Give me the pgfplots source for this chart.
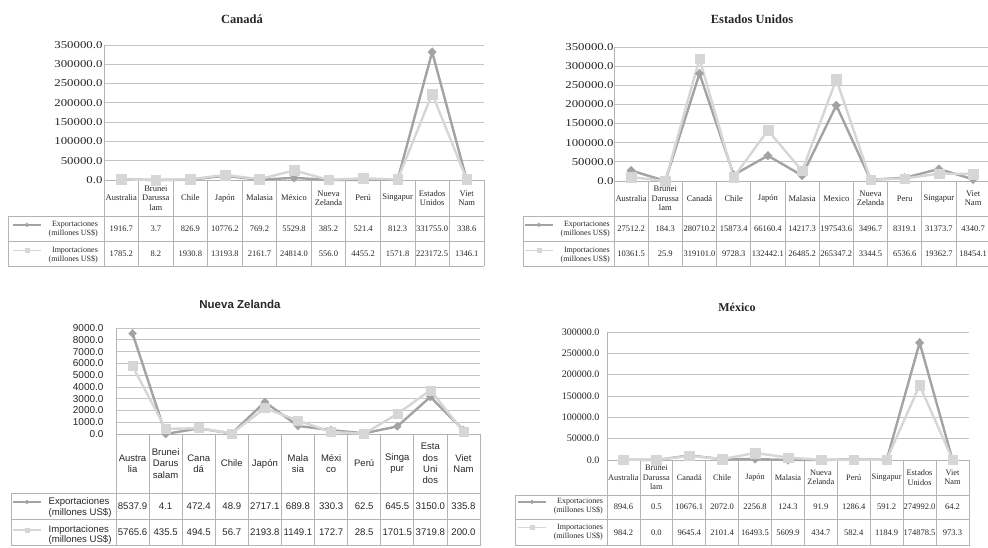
\documentclass[border=0pt]{standalone}
\usepackage{fontspec}
\setmainfont{Liberation Serif}
\newfontfamily\sansf{Liberation Sans}
\newfontfamily\tickserif{Liberation Serif}[FakeStretch=1.22]
\usepackage{pgfplots}
\pgfplotsset{compat=1.18}
\definecolor{expc}{HTML}{A3A3A3}
\definecolor{impc}{HTML}{D6D6D6}
\definecolor{gridc}{HTML}{C4C4C4}
\definecolor{tblc}{HTML}{B4B4B4}
\definecolor{txtc}{HTML}{262626}

\pgfplotsset{
  panel/.style={
    scale only axis, anchor=south west, clip=false,
    xmin=-0.5, xmax=10.5, ymin=0,
    xtick=\empty, scaled y ticks=false,
    axis x line*=bottom, axis y line*=left,
    axis line style={tblc, line width=0.8pt, -},
    ymajorgrids, grid style={gridc, line width=0.8pt},
    major tick length=0pt,
    /pgf/number format/fixed, /pgf/number format/fixed zerofill,
    /pgf/number format/precision=1, /pgf/number format/1000 sep={},
    /pgf/number format/assume math mode=true,
    yticklabel style={text=txtc},
    legend style={draw=none, fill=none, inner sep=0pt, row sep=7.5pt, text=txtc, nodes={inner sep=1pt}, cells={align=right},
      /tikz/every odd column/.append style={column sep=6pt}},
    legend cell align=right,
    legend image code/.code={\draw[mark repeat=2, mark phase=2, ##1, line width=1.6pt, mark size=2pt, yshift=4.5pt] plot coordinates {(0pt,0pt) (14pt,0pt) (28pt,0pt)};},
  },
  expstyle/.style={expc, line width=2.4pt, mark=diamond*, mark size=4.3pt, mark options={solid, fill=expc, draw=expc, line width=0.4pt, xscale=1.3}},
  impstyle/.style={impc, line width=2.4pt, mark=square*, mark size=4.8pt, mark options={solid, fill=impc, draw=impc, line width=0.4pt}},
}

\newcommand\tablegrid[7]{%
  \begin{scope}[x=1pt,y=-1pt]
    \pgfmathsetmacro\XR{#1+11*#2}
    \draw[tblc, line width=0.8pt] (#1,#4) -- (\XR,#4) (#3,#5) -- (\XR,#5) (#3,#6) -- (\XR,#6) (#3,#7) -- (\XR,#7) (#3,#5) -- (#3,#7);
    \foreach \i in {0,...,11} \draw[tblc, line width=0.8pt] ({#1+\i*#2},#4) -- ({#1+\i*#2},#7);
  \end{scope}}
\newcommand\tablerow[5]{%
  \begin{scope}[x=1pt,y=-1pt]
    \foreach \t [count=\i from 0] in {#5}
      \node[align=center, inner sep=0pt, font=#4, text=txtc] at ({#1+(\i+0.5)*#2},#3) {\t};
  \end{scope}}

\begin{document}
\begin{tikzpicture}
\path[use as bounding box] (0pt,0pt) rectangle (988pt,-547pt);

% ---------------- Tables ----------------
\tablegrid{104}{34.545}{8}{180}{216}{241}{266}
\tablerow{104}{34.545}{198}{\fontsize{8.5}{9.4}\selectfont}{Australia,{Brunei\\Darussa\\lam},Chile,Japón,Malasia,México,{Nueva\\Zelanda},Perú,Singapur,{Estados\\Unidos},{Viet\\Nam}}
\tablerow{104}{34.545}{228.5}{\fontsize{8.5}{10}\selectfont}{1916.7,3.7,826.9,10776.2,769.2,5529.8,385.2,521.4,812.3,331755.0,338.6}
\tablerow{104}{34.545}{253.5}{\fontsize{8.5}{10}\selectfont}{1785.2,8.2,1930.8,13193.8,2161.7,24814.0,556.0,4455.2,1571.8,223172.5,1346.1}

\tablegrid{614}{34.2}{523}{181}{216}{241}{266}
\tablerow{614}{34.2}{198.5}{\fontsize{8.5}{9.4}\selectfont}{Australia,{Brunei\\Darussa\\lam},Canadá,Chile,Japón,Malasia,Mexico,{Nueva\\Zelanda},Peru,Singapur,{Viet\\Nam}}
\tablerow{614}{34.2}{228.5}{\fontsize{8.5}{10}\selectfont}{27512.2,184.3,280710.2,15873.4,66160.4,14217.3,197543.6,3496.7,8319.1,31373.7,4340.7}
\tablerow{614}{34.2}{253.5}{\fontsize{8.5}{10}\selectfont}{10361.5,25.9,319101.0,9728.3,132442.1,26485.2,265347.2,3344.5,6536.6,19362.7,18454.1}

\tablegrid{116}{33.09}{11}{434}{493}{519}{545.5}
\tablerow{116}{33.09}{463.5}{\sansf\fontsize{9.5}{11.3}\selectfont}{{Austra\\lia},{Brunei\\Darus\\salam},{Cana\\dá},Chile,Japón,{Mala\\sia},{Méxi\\co},Perú,{Singa\\pur},{Esta\\dos\\Uni\\dos},{Viet\\Nam}}
\tablerow{116}{33.09}{506}{\sansf\fontsize{9.6}{11}\selectfont}{8537.9,4.1,472.4,48.9,2717.1,689.8,330.3,62.5,645.5,3150.0,335.8}
\tablerow{116}{33.09}{532.5}{\sansf\fontsize{9.6}{11}\selectfont}{5765.6,435.5,494.5,56.7,2193.8,1149.1,172.7,28.5,1701.5,3719.8,200.0}

\tablegrid{607}{32.9}{515}{460}{495}{519}{545.5}
\tablerow{607}{32.9}{477.5}{\fontsize{8.3}{9.4}\selectfont}{Australia,{Brunei\\Darussa\\lam},Canadá,Chile,Japón,Malasia,{Nueva\\Zelanda},Perú,Singapur,{Estados\\Unidos},{Viet\\Nam}}
\tablerow{607}{32.9}{507}{\fontsize{8.5}{10}\selectfont}{894.6,0.5,10676.1,2072.0,2256.8,124.3,91.9,1286.4,591.2,274992.0,64.2}
\tablerow{607}{32.9}{532.5}{\fontsize{8.5}{10}\selectfont}{984.2,0.0,9645.4,2101.4,16493.5,5609.9,434.7,582.4,1184.9,174878.5,973.3}

% ---------------- Titles ----------------
\node[font=\bfseries\fontsize{12.5}{14}\selectfont, text=txtc] at (242pt,-19pt) {Canadá};
\node[font=\bfseries\fontsize{12.5}{14}\selectfont, text=txtc] at (752pt,-19pt) {Estados Unidos};
\node[font=\sansf\bfseries\fontsize{11.5}{13}\selectfont, text=txtc] at (240pt,-304pt) {Nueva Zelanda};
\node[font=\bfseries\fontsize{12}{14}\selectfont, text=txtc] at (737pt,-307pt) {México};

% ---------------- Canadá ----------------
\begin{axis}[panel, at={(104pt,-180pt)}, width=380pt, height=135pt,
  ymax=350000, ytick distance=50000,
  yticklabel style={font=\tickserif\fontsize{10.5}{12}\selectfont, xshift=2pt},
  legend style={at={(-0.013,-0.296)}, anchor=north east, font=\fontsize{8}{9.5}\selectfont}]
\addplot[expstyle] coordinates {(0,1916.7)(1,3.7)(2,826.9)(3,10776.2)(4,769.2)(5,5529.8)(6,385.2)(7,521.4)(8,812.3)(9,331755.0)(10,338.6)};
\addlegendentry{Exportaciones\\(millones US\$)}
\addplot[impstyle] coordinates {(0,1785.2)(1,8.2)(2,1930.8)(3,13193.8)(4,2161.7)(5,24814.0)(6,556.0)(7,4455.2)(8,1571.8)(9,223172.5)(10,1346.1)};
\addlegendentry{Importaciones\\(millones US\$)}
\end{axis}

% ---------------- Estados Unidos ----------------
\begin{axis}[panel, at={(614pt,-181pt)}, width=376.2pt, height=134pt,
  ymax=350000, ytick distance=50000,
  yticklabel style={font=\tickserif\fontsize{10.5}{12}\selectfont, xshift=3pt},
  legend style={at={(-0.008,-0.291)}, anchor=north east, font=\fontsize{8}{9.5}\selectfont}]
\addplot[expstyle] coordinates {(0,27512.2)(1,184.3)(2,280710.2)(3,15873.4)(4,66160.4)(5,14217.3)(6,197543.6)(7,3496.7)(8,8319.1)(9,31373.7)(10,4340.7)};
\addlegendentry{Exportaciones\\(millones US\$)}
\addplot[impstyle] coordinates {(0,10361.5)(1,25.9)(2,319101.0)(3,9728.3)(4,132442.1)(5,26485.2)(6,265347.2)(7,3344.5)(8,6536.6)(9,19362.7)(10,18454.1)};
\addlegendentry{Importaciones\\(millones US\$)}
\end{axis}

% ---------------- Nueva Zelanda ----------------
\begin{axis}[panel, at={(116pt,-434pt)}, width=364pt, height=106pt,
  ymax=9000, ytick distance=1000,
  yticklabel style={font=\sansf\fontsize{10}{10.5}\selectfont, xshift=-9pt},
  legend cell align=left,
  legend style={at={(-0.2857,-0.59)}, anchor=north west, row sep=7pt, cells={align=left}, font=\sansf\fontsize{9.6}{10.4}\selectfont},
  legend image code/.code={\draw[mark repeat=2, mark phase=2, #1, line width=1.4pt, mark size=2pt, yshift=5.2pt] plot coordinates {(0pt,0pt) (14pt,0pt) (28pt,0pt)};}]
\addplot[expstyle, mark size=4pt] coordinates {(0,8537.9)(1,4.1)(2,472.4)(3,48.9)(4,2717.1)(5,689.8)(6,330.3)(7,62.5)(8,645.5)(9,3150.0)(10,335.8)};
\addlegendentry{Exportaciones\\(millones US\$)}
\addplot[impstyle, mark size=4.5pt] coordinates {(0,5765.6)(1,435.5)(2,494.5)(3,56.7)(4,2193.8)(5,1149.1)(6,172.7)(7,28.5)(8,1701.5)(9,3719.8)(10,200.0)};
\addlegendentry{Importaciones\\(millones US\$)}
\end{axis}

% ---------------- México ----------------
\begin{axis}[panel, at={(607pt,-460pt)}, width=362pt, height=128pt,
  ymax=300000, ytick distance=50000,
  yticklabel style={font=\fontsize{10}{11}\selectfont, xshift=-4pt},
  legend style={at={(-0.008,-0.289)}, anchor=north east, font=\fontsize{8}{9.5}\selectfont}]
\addplot[expstyle] coordinates {(0,894.6)(1,0.5)(2,10676.1)(3,2072.0)(4,2256.8)(5,124.3)(6,91.9)(7,1286.4)(8,591.2)(9,274992.0)(10,64.2)};
\addlegendentry{Exportaciones\\(millones US\$)}
\addplot[impstyle] coordinates {(0,984.2)(1,0.0)(2,9645.4)(3,2101.4)(4,16493.5)(5,5609.9)(6,434.7)(7,582.4)(8,1184.9)(9,174878.5)(10,973.3)};
\addlegendentry{Importaciones\\(millones US\$)}
\end{axis}
\end{tikzpicture}
\end{document}
